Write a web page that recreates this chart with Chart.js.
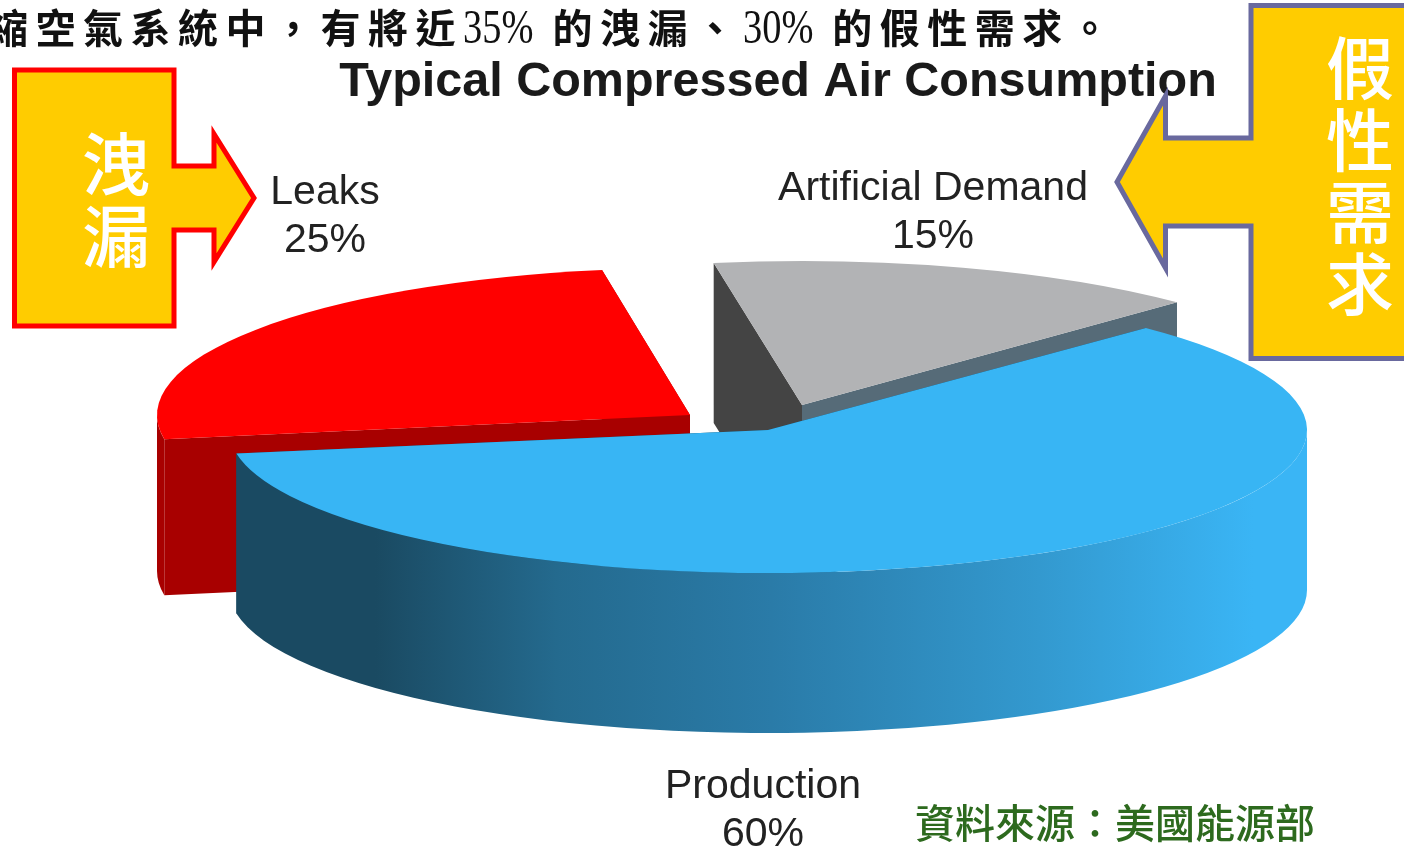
<!DOCTYPE html>
<html lang="zh-Hant">
<head>
<meta charset="utf-8">
<title>Typical Compressed Air Consumption</title>
<script src="https://cdn.jsdelivr.net/npm/chart.js@4"></script>
<style>
    html, body { margin: 0; width: 1404px; height: 848px; background: #fff; overflow: hidden; }
    #chart, #callouts { position: absolute; left: 0; top: 0; }
    .txt { position: absolute; white-space: pre; font-family: "Noto Sans CJK TC", sans-serif; }
    #headline { left: -12px; top: -2px; font-size: 40px; line-height: 56px; font-weight: 700; letter-spacing: 7.5px; color: #111; }
    #headline span { display: inline-block; width: 73px; font-family: "Liberation Serif", serif; font-size: 48px; font-weight: 400; letter-spacing: 0; transform: scaleX(.8); transform-origin: left; }
    .tag { color: #fff; font-size: 68px; line-height: 72px; text-align: center; width: 80px; font-weight: 500; }
    #source { left: 915px; top: 791px; font-size: 40px; line-height: 60px; font-weight: 500; color: #2d6a1e; }
</style>
</head>
<body>
<canvas id="chart" width="1404" height="848"></canvas>
<svg id="callouts" width="1404" height="848">
    <polygon points="14.5,70 174,70 174,166 214,166 214,134 254,198 214,262 214,230 174,230 174,326 14.5,326"
             fill="#ffcc00" stroke="#ff0000" stroke-width="5" stroke-miterlimit="10"/>
    <polygon points="1412,5.5 1251,5.5 1251,138 1165.5,138 1165.5,96 1117,182 1165.5,268 1165.5,226 1251,226 1251,358.5 1412,358.5"
             fill="#ffcc00" stroke="#69699e" stroke-width="5" stroke-miterlimit="10"/>
</svg>
<div class="txt" id="headline">縮空氣系統中，有將近<span>35%</span> 的洩漏、<span>30%</span> 的假性需求。</div>
<div class="txt tag" style="left:76px;top:125px">洩<br>漏</div>
<div class="txt tag" style="left:1320px;top:29px">假<br>性<br>需<br>求</div>
<div class="txt" id="source">資料來源：美國能源部</div>
<script>
const categories = ['Artificial Demand', 'Production', 'Leaks'];
const shares = [15, 60, 25];
const topColors = ['#b2b3b5', '#38b5f4', '#ff0000'];

// where each slice sits on the page once tilted (exploded by hand, like the original)
const sliceView = [
    { cx: 802, cy: 405, rx: 535, ry: 144, depth: 160 },
    { cx: 768, cy: 430, rx: 539, ry: 143, depth: 160 },
    { cx: 690, cy: 415, rx: 533, ry: 147, depth: 156 }
];
const cutColors = [['#444444', '#566b78'], ['#1a4a62', '#1a4a62'], ['#a80000', '#a80000']];
const labelSpots = [[933, 189], [763, 787], [325, 193]];

function faceQuad(ctx, v, angle, color) {
    const ex = v.cx + v.rx * Math.cos(angle);
    const ey = v.cy + v.ry * Math.sin(angle);
    ctx.fillStyle = color;
    ctx.beginPath();
    ctx.moveTo(v.cx, v.cy);
    ctx.lineTo(ex, ey);
    ctx.lineTo(ex, ey + v.depth);
    ctx.lineTo(v.cx, v.cy + v.depth);
    ctx.closePath();
    ctx.fill();
}

function outerWall(ctx, v, a, b, fill) {
    // only the part of the rim that faces the viewer (0..PI on the canvas)
    const twoPi = Math.PI * 2;
    [-twoPi, 0, twoPi].forEach(turn => {
        const from = Math.max(a + turn, 0);
        const to = Math.min(b + turn, Math.PI);
        if (from >= to) return;
        ctx.fillStyle = fill;
        ctx.beginPath();
        ctx.ellipse(v.cx, v.cy, v.rx, v.ry, 0, from, to);
        ctx.ellipse(v.cx, v.cy + v.depth, v.rx, v.ry, 0, to, from, true);
        ctx.closePath();
        ctx.fill();
    });
}

const tiltedPie = {
    id: 'tiltedPie',
    beforeDatasetDraw(chart, args) {
        const ctx = chart.ctx;
        const arcs = args.meta.data;
        const order = arcs.map((a, i) => i).sort((p, q) => sliceView[p].cy - sliceView[q].cy);

        const rim = ctx.createLinearGradient(236, 0, 1307, 0);
        rim.addColorStop(0, '#1a4a62');
        rim.addColorStop(0.13, '#1a4a62');
        rim.addColorStop(0.3, '#246a8e');
        rim.addColorStop(0.5, '#2a7ba8');
        rim.addColorStop(0.75, '#3399cf');
        rim.addColorStop(0.95, '#3ab5f5');

        order.forEach(i => {
            const arc = arcs[i];
            const v = sliceView[i];
            faceQuad(ctx, v, arc.startAngle, cutColors[i][0]);
            faceQuad(ctx, v, arc.endAngle, cutColors[i][1]);
            outerWall(ctx, v, arc.startAngle, arc.endAngle, i === 1 ? rim : cutColors[i][0]);

            ctx.save();
            ctx.translate(v.cx, v.cy);
            ctx.scale(v.rx / arc.outerRadius, v.ry / arc.outerRadius);
            ctx.translate(-arc.x, -arc.y);
            arc.draw(ctx);
            ctx.restore();
        });
        return false;
    },
    afterDraw(chart) {
        const ctx = chart.ctx;
        ctx.save();
        ctx.font = '41px "Liberation Sans", Arial, sans-serif';
        ctx.fillStyle = '#222';
        ctx.textAlign = 'center';
        ctx.textBaseline = 'middle';
        categories.forEach((name, i) => {
            ctx.fillText(name, labelSpots[i][0], labelSpots[i][1]);
            ctx.fillText(shares[i] + '%', labelSpots[i][0], labelSpots[i][1] + 48);
        });
        ctx.restore();
    }
};

new Chart(document.getElementById('chart'), {
    type: 'pie',
    data: {
        labels: categories,
        datasets: [{ data: shares, backgroundColor: topColors, borderWidth: 0 }]
    },
    plugins: [tiltedPie],
    options: {
        responsive: false,
        animation: false,
        rotation: -9.5,
        layout: { padding: { left: 152 } },
        plugins: {
            legend: { display: false },
            tooltip: { enabled: false },
            title: {
                display: true,
                fullSize: false,
                text: 'Typical Compressed Air Consumption',
                color: '#1a1a1a',
                font: { family: '"Liberation Sans", Arial, sans-serif', size: 48.5, weight: 'bold' },
                padding: { top: 54, bottom: 10 }
            }
        }
    }
});
</script>
</body>
</html>
